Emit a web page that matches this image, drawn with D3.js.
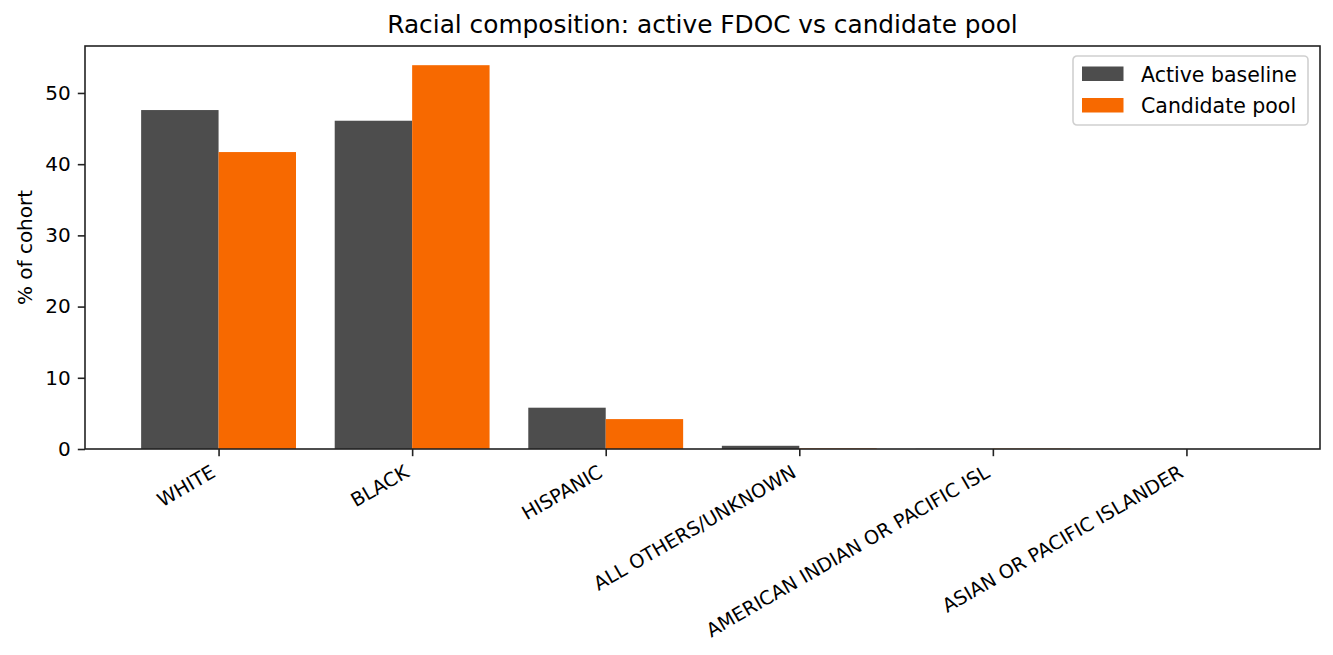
<!DOCTYPE html>
<html>
<head>
<meta charset="utf-8">
<script src="https://cdn.jsdelivr.net/npm/d3@7"></script>
<style>
  body { margin: 0; background: #fff; }
  text { font-family: "DejaVu Sans", sans-serif; fill: #000; }
</style>
</head>
<body>
<div id="chart"></div>
<script>
// Data
const categories = ["WHITE", "BLACK", "HISPANIC", "ALL OTHERS/UNKNOWN", "AMERICAN INDIAN OR PACIFIC ISL", "ASIAN OR PACIFIC ISLANDER"];
const activeBaseline = [47.6, 46.1, 5.8, 0.45, 0.02, 0.0];
const candidatePool = [41.7, 53.9, 4.2, 0.08, 0.05, 0.0];
const seriesNames = ["Active baseline", "Candidate pool"];
const yTicks = [0, 10, 20, 30, 40, 50];

const width = 1333, height = 655;
const margin = { top: 46, right: 13, bottom: 206, left: 85 };
const colors = ["#4d4d4d", "#f76900"];
const fs = 20;            // tick / label font
const fsX = 19.2;         // rotated category labels
const tickLen = 7.2, tickPad = 7.2;

const svg = d3.select("#chart").append("svg")
    .attr("width", width)
    .attr("height", height);

const innerW = width - margin.left - margin.right;
const innerH = height - margin.top - margin.bottom;

const g = svg.append("g")
    .attr("transform", "translate(" + margin.left + "," + margin.top + ")");

// x in category units, matplotlib-style margins
const x = d3.scaleLinear()
    .domain([-0.69, categories.length - 1 + 0.69])
    .range([0, innerW]);

const yMax = d3.max(activeBaseline.concat(candidatePool)) * 1.05;
const y = d3.scaleLinear()
    .domain([0, yMax])
    .range([innerH, 0]);

const barW = 0.4;
const series = [activeBaseline, candidatePool];

series.forEach((vals, si) => {
    g.selectAll(".bar" + si)
        .data(vals)
        .enter().append("rect")
        .attr("class", "bar" + si)
        .attr("x", (d, i) => x(i - barW + si * barW))
        .attr("width", x(barW) - x(0))
        .attr("y", d => y(d))
        .attr("height", d => y(0) - y(d))
        .attr("fill", colors[si]);
});

// Axes
const yAxis = g.append("g")
    .call(d3.axisLeft(y).tickValues(yTicks).tickSize(tickLen).tickPadding(tickPad));
yAxis.select(".domain").remove();
yAxis.selectAll("text").style("font-size", fs + "px").attr("fill", "#000");
yAxis.selectAll("line").attr("stroke", "#222").attr("stroke-width", 1.6);

const xAxis = g.append("g")
    .attr("transform", "translate(0," + innerH + ")")
    .call(d3.axisBottom(x).tickValues(d3.range(categories.length)).tickSize(tickLen).tickFormat(""));
xAxis.select(".domain").remove();
xAxis.selectAll("line").attr("stroke", "#222").attr("stroke-width", 1.6);

// rotated labels: bbox right edge at tick, bbox top below tick + pad
const asc = 0.76 * fsX, desc = 0.236 * fsX;
xAxis.selectAll(".tick")
    .append("text")
    .attr("transform", "translate(" + (-desc * 0.5) + "," + (tickLen + tickPad + asc * 0.866) + ") rotate(-30)")
    .attr("text-anchor", "end")
    .style("font-size", fsX + "px")
    .text((d, i) => categories[i]);

// frame
g.append("rect")
    .attr("width", innerW)
    .attr("height", innerH)
    .attr("fill", "none")
    .attr("stroke", "#222")
    .attr("stroke-width", 1.6);

// y label
svg.append("text")
    .attr("transform", "translate(31.5," + (margin.top + innerH / 2) + ") rotate(-90)")
    .attr("text-anchor", "middle")
    .style("font-size", fs + "px")
    .text("% of cohort");

// title
svg.append("text")
    .attr("x", margin.left + innerW / 2)
    .attr("y", 33)
    .attr("text-anchor", "middle")
    .style("font-size", "24.8px")
    .text("Racial composition: active FDOC vs candidate pool");

// legend
const legend = svg.append("g")
    .attr("transform", "translate(1073,56)");
legend.append("rect")
    .attr("width", 235)
    .attr("height", 69)
    .attr("rx", 4)
    .attr("fill", "#fff")
    .attr("fill-opacity", 0.8)
    .attr("stroke", "#d0d0d0")
    .attr("stroke-width", 1.6);
seriesNames.forEach((name, i) => {
    legend.append("rect")
        .attr("x", 9)
        .attr("y", 10.5 + i * 31.5)
        .attr("width", 41.5)
        .attr("height", 14.5)
        .attr("fill", colors[i]);
    legend.append("text")
        .attr("x", 68)
        .attr("y", 25.5 + i * 31.5)
        .style("font-size", "20.5px")
        .text(name);
});
</script>
</body>
</html>
